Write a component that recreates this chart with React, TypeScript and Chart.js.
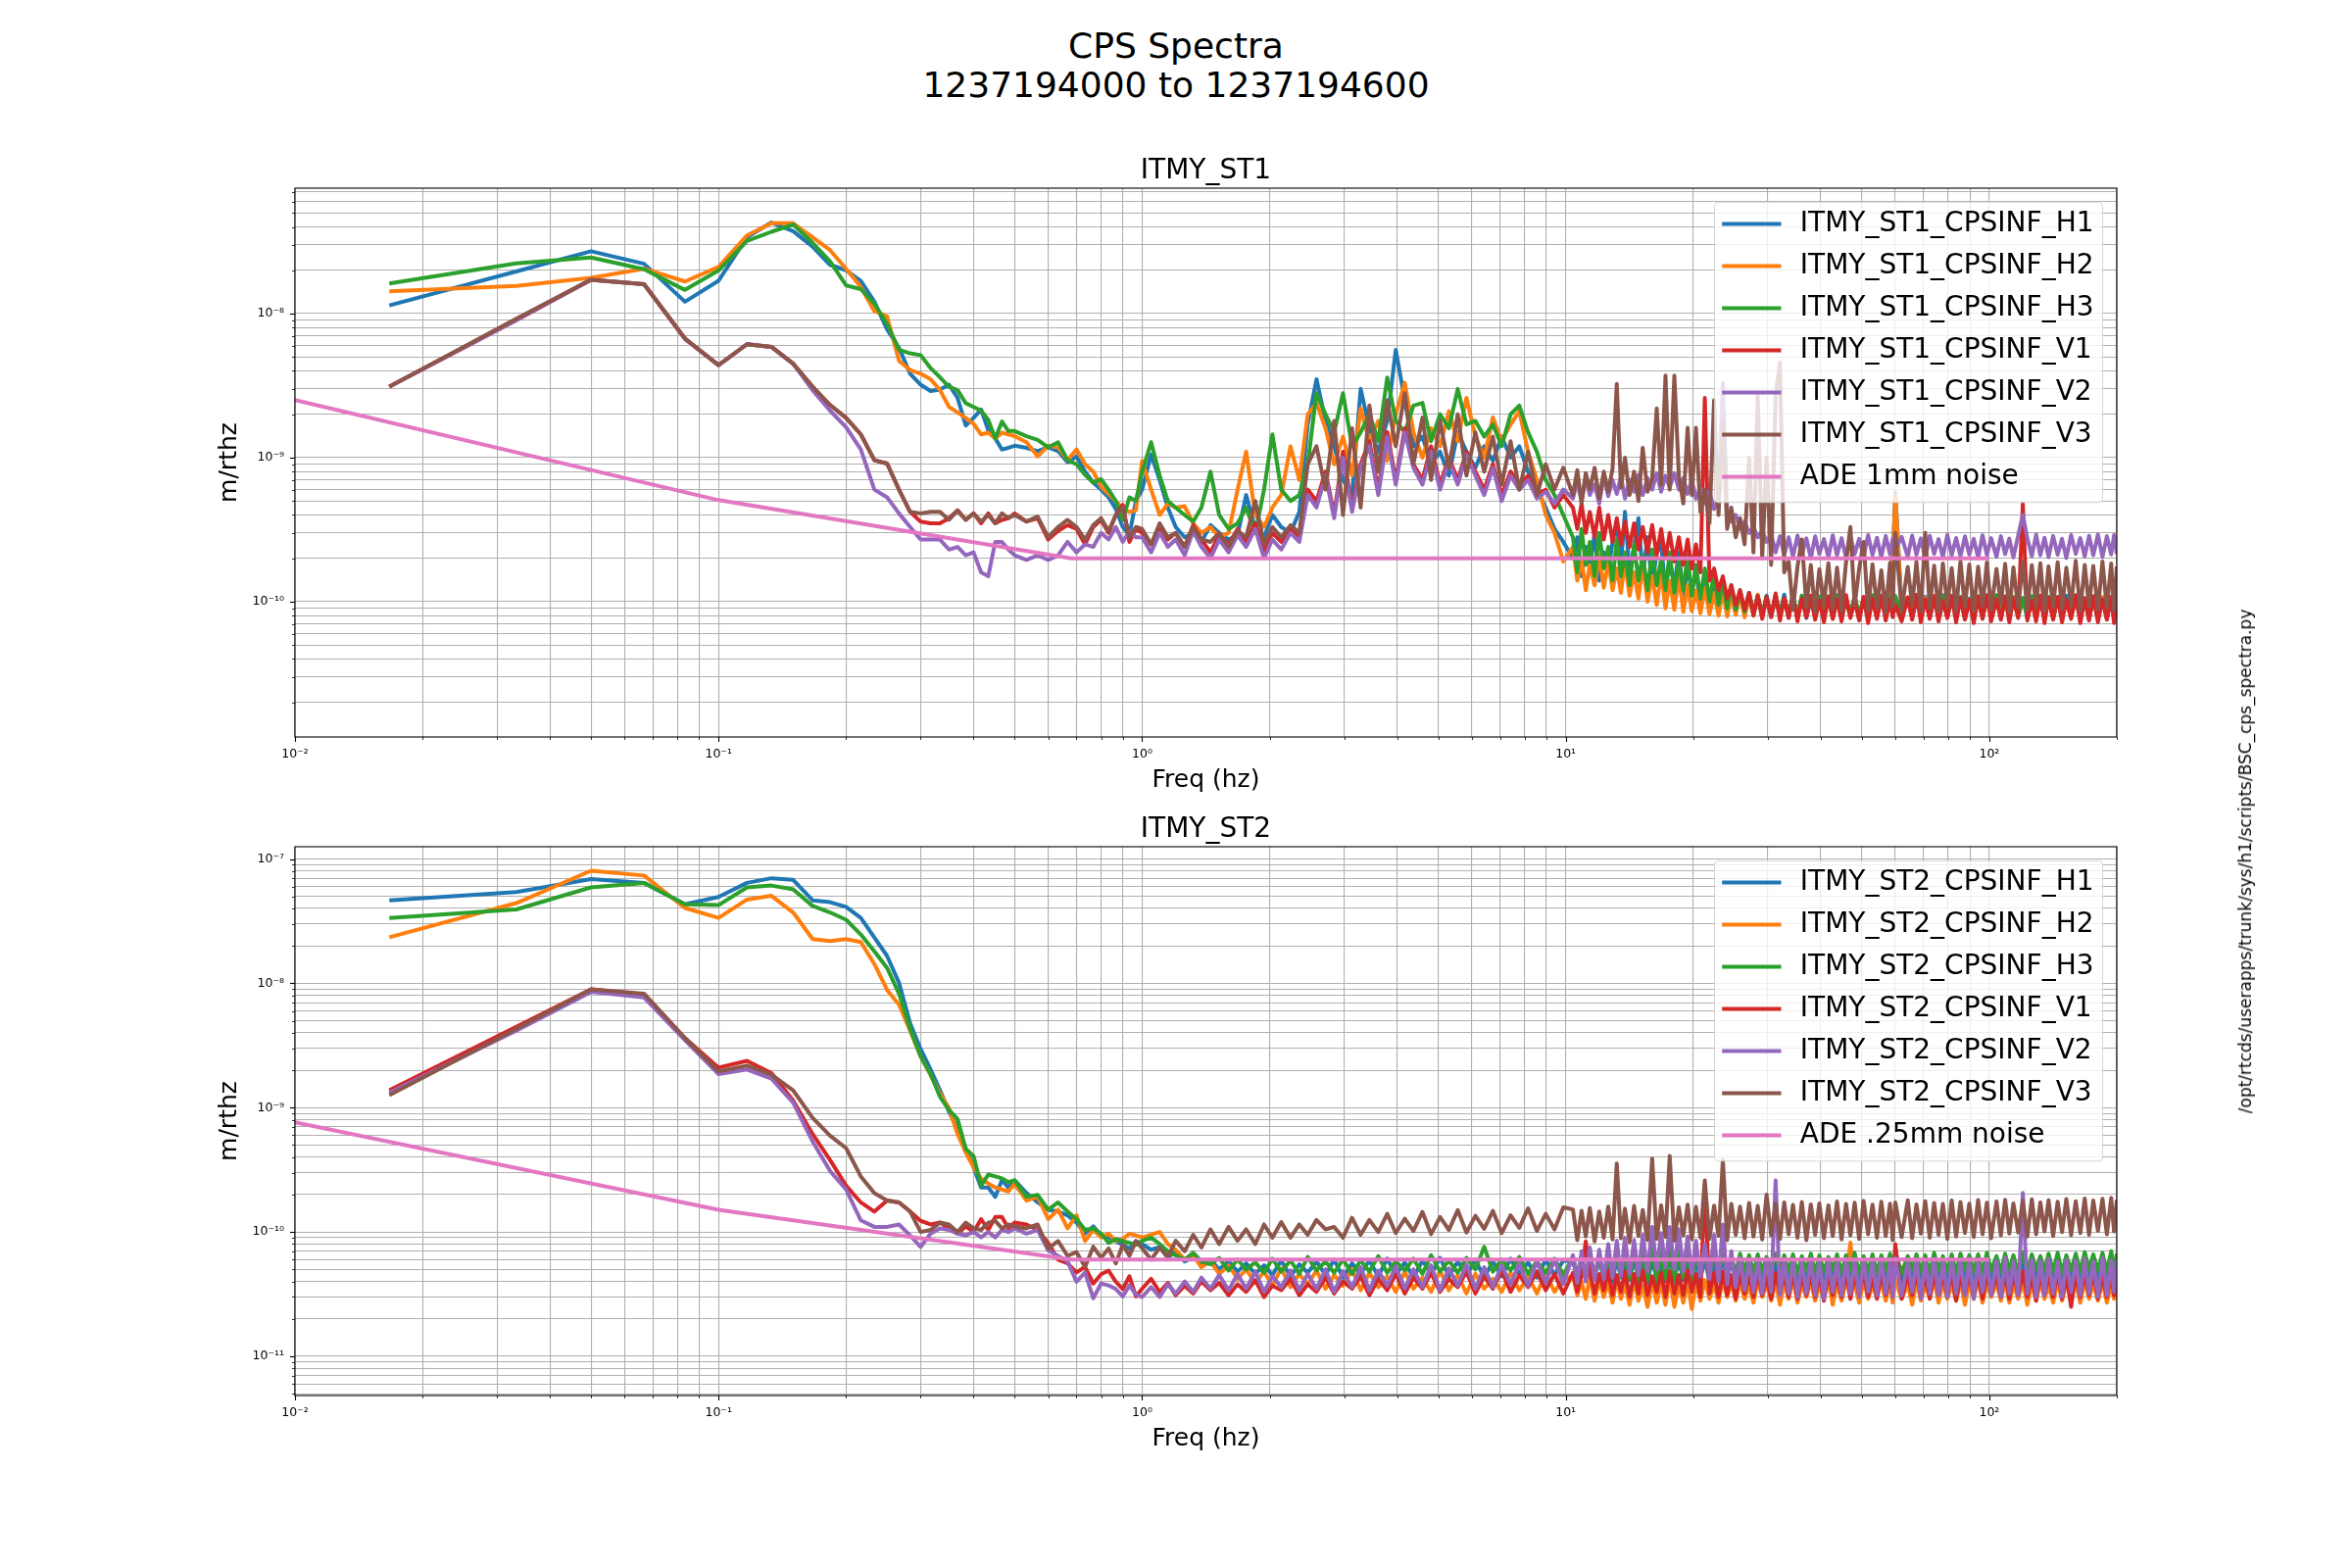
import React, { useEffect, useRef } from "react";
import { Chart, registerables } from "chart.js";

Chart.register(...registerables);

const FONT = "'DejaVu Sans', sans-serif";
// All spectrum values below are in units of 1e-11 m/rtHz
const UNIT = 1e-11;

// Frequency bins (Hz) shared by every CPS spectrum: 44 low bins, 49 bins 1-10 Hz, 125 bins 10-200 Hz
const FREQ = [
  0.0167, 0.0333, 0.05, 0.0667, 0.0833, 0.1, 0.1167, 0.1333, 0.15, 0.1667,
  0.1833, 0.2, 0.2167, 0.2333, 0.25, 0.2667, 0.2833, 0.3, 0.3167, 0.3333,
  0.35, 0.3667, 0.3833, 0.4, 0.4167, 0.4333, 0.45, 0.4667, 0.4833, 0.5,
  0.5333, 0.5667, 0.6, 0.6333, 0.6667, 0.7, 0.7333, 0.7667, 0.8, 0.8333,
  0.8667, 0.9, 0.9333, 0.9667,
  1.0, 1.05, 1.1, 1.15, 1.2, 1.26, 1.32, 1.38, 1.45, 1.52,
  1.6, 1.68, 1.76, 1.85, 1.94, 2.03, 2.13, 2.24, 2.35, 2.46,
  2.58, 2.71, 2.84, 2.98, 3.13, 3.28, 3.44, 3.61, 3.79, 3.97,
  4.17, 4.37, 4.59, 4.81, 5.05, 5.3, 5.56, 5.83, 6.12, 6.42,
  6.73, 7.06, 7.41, 7.77, 8.15, 8.55, 8.97, 9.41, 9.87,
  10.4, 10.65, 10.9, 11.15, 11.4, 11.7, 12.0, 12.3, 12.6, 12.9,
  13.2, 13.5, 13.8, 14.15, 14.5, 14.85, 15.2, 15.6, 16.0, 16.4,
  16.8, 17.2, 17.6, 18.05, 18.5, 18.95, 19.4, 19.85, 20.3, 20.8,
  21.3, 21.85, 22.4, 22.95, 23.5, 24.05, 24.6, 25.2, 25.8, 26.45,
  27.1, 27.75, 28.4, 29.1, 29.8, 30.55, 31.3, 32.05, 32.8, 33.6,
  34.4, 35.25, 36.1, 37.0, 37.9, 38.8, 39.7, 40.7, 41.7, 42.7,
  43.7, 44.8, 45.9, 47.0, 48.1, 49.3, 50.5, 51.75, 53.0, 54.3,
  55.6, 56.95, 58.3, 59.15, 60.0, 62.1, 64.2, 65.75, 67.3, 68.95,
  70.6, 72.35, 74.1, 75.9, 77.7, 79.6, 81.5, 83.5, 85.5, 87.6,
  89.7, 91.9, 94.1, 96.4, 98.7, 101, 104, 106.5, 109, 111.5,
  114, 117, 120, 123, 126, 129, 132, 135, 138, 141.5,
  145, 148.5, 152, 156, 160, 164, 168, 172, 176, 180.5,
  185, 189.5, 194, 197, 200,
];

// ---------- ITMY_ST1 ----------
const ST1_H1 = [
  1140, 1960, 2710, 2220, 1210, 1690, 3390, 4290, 3740, 2920,
  2180, 2000, 1690, 1210, 776, 578, 383, 321, 290, 297,
  321, 260, 167, 189, 216, 155, 136, 114, 117, 121,
  117, 111, 118, 111, 93, 102, 80, 67, 60, 53,
  44, 33, 29, 50,
  60, 105, 70, 45, 33, 28, 30, 26, 34, 30,
  27, 29, 55, 32, 28, 40, 33, 30, 42, 170,
  350, 180, 120, 70, 55, 300, 160, 110, 180, 560,
  250, 120, 140, 90, 110, 75, 150, 110, 85, 120,
  95, 140, 100, 120, 80, 60, 45, 32, 26,
  20, 28, 15, 24, 17, 30, 14, 22, 16, 26,
  35, 18, 42, 16, 24, 38, 15, 28, 13, 22,
  25, 12, 19, 13, 22, 11, 17, 12, 16, 10,
  14, 9.5, 13, 9, 12, 8.8, 12.5, 8.5, 11, 8.6,
  11.5, 8.2, 10.8, 8, 11, 7.9, 10.5, 8.3, 11.2, 7.8,
  10.6, 8.1, 11, 7.7, 10.3, 8.2, 10.9, 7.9, 10.4, 8,
  11.1, 7.8, 10.2, 8.3, 10.8, 7.6, 10.5, 8, 11, 7.9,
  10.3, 8.1, 10.9, 20, 57, 9, 10.6, 7.8, 10.2, 8.2,
  10.8, 7.7, 10.4, 8, 11.1, 7.9, 10.3, 8.1, 10.7, 7.6,
  10.5, 8.2, 10.1, 7.8, 11, 8, 10.4, 7.7, 10.8, 7.9,
  10.2, 8.1, 10.6, 7.6, 10.9, 8, 10.3, 7.8, 10.7, 7.9,
  10.4, 7.7, 11, 8, 10.2, 7.8, 10.6, 7.5, 10.8, 7.9,
  10.3, 7.6, 10.7, 7.9, 9.8,
];
const ST1_H2 = [
  1426, 1556, 1770, 2050, 1670, 2110, 3490, 4240, 4240, 3390,
  2760, 2050, 1530, 1040, 955, 470, 406, 383, 350, 294,
  225, 206, 189, 172, 145, 149, 136, 149, 145, 141,
  128, 102, 121, 118, 96, 114, 90, 80, 63, 56,
  50, 44, 42, 43,
  95, 60, 40, 48, 45, 46, 35, 30, 33, 28,
  30, 60, 110, 40, 33, 45, 55, 120, 70, 200,
  240, 160, 90, 140, 75, 220, 130, 180, 95, 200,
  330, 150, 100, 160, 120, 210, 130, 260, 140, 100,
  190, 130, 170, 210, 110, 70, 40, 30, 19,
  24, 14, 20, 12, 18, 13, 21, 12.5, 19, 12,
  17, 11.5, 19, 11, 16, 10.5, 18, 10, 15, 9.5,
  16, 9, 14, 8.8, 15, 8.5, 13, 8.6, 12, 8.3,
  12.5, 8.2, 11.5, 8, 11.8, 7.9, 11, 8.1, 11.3, 7.8,
  10.9, 8.1, 11.2, 7.9, 10.6, 8.2, 11, 7.8, 10.5, 8,
  11.1, 7.7, 10.4, 8.1, 10.8, 7.9, 10.3, 8.2, 10.9, 7.6,
  10.5, 8, 10.2, 7.9, 11, 7.7, 10.6, 8.1, 10.3, 7.8,
  10.9, 8, 10.4, 18, 55, 8.6, 10.7, 7.9, 10.2, 8.1,
  10.6, 7.8, 11, 7.9, 10.3, 8.2, 10.8, 7.6, 10.5, 8,
  10.2, 7.9, 10.9, 8.1, 10.4, 7.7, 10.7, 8, 10.1, 7.8,
  10.8, 7.9, 10.3, 8.2, 10.6, 7.6, 11, 8, 10.4, 7.7,
  10.7, 8.1, 10.2, 7.8, 10.9, 7.9, 10.4, 8, 10.6, 7.6,
  10.8, 7.9, 10.3, 7.7, 10.2,
];
const ST1_H3 = [
  1620, 2230, 2450, 2030, 1460, 1990, 3190, 3700, 4160, 3100,
  2310, 1570, 1480, 1170, 848, 561, 530, 515, 418, 361,
  311, 294, 239, 225, 212, 183, 136, 178, 153, 153,
  141, 133, 118, 128, 96, 90, 76, 67, 71, 60,
  50, 37, 53, 50,
  80, 128, 75, 50, 45, 40, 36, 45, 80, 40,
  32, 35, 45, 30, 60, 145, 60, 50, 55, 90,
  280, 200, 150, 280, 120, 150, 200, 130, 360, 180,
  150, 230, 240, 130, 200, 160, 300, 170, 180, 140,
  170, 120, 200, 230, 150, 110, 70, 55, 40,
  28, 16, 32, 18, 26, 15, 30, 17, 24, 14,
  27, 15, 22, 13, 25, 14, 21, 12, 23, 13,
  20, 12, 22, 11.5, 19, 12, 21, 11, 18, 10.5,
  17, 10, 16, 9.5, 14, 9, 13, 8.8, 12, 8.5,
  11.5, 8.3, 11, 8.1, 10.8, 7.9, 11.2, 8.2, 10.5, 8,
  10.9, 7.8, 11, 8.1, 10.4, 7.9, 10.8, 8.2, 10.6, 7.7,
  11, 8, 10.3, 7.9, 10.9, 8.1, 10.5, 7.8, 11.1, 8,
  10.4, 7.9, 10.8, 8.2, 11, 8, 10.6, 7.8, 10.9, 8.1,
  10.3, 7.9, 10.7, 8, 11, 7.8, 10.5, 8.2, 10.8, 7.9,
  10.4, 8.1, 10.9, 7.7, 10.6, 8, 11.1, 7.9, 10.3, 8.2,
  10.7, 7.8, 10.5, 8.1, 10.9, 7.9, 10.4, 8, 10.8, 7.7,
  10.6, 8.2, 10.3, 7.9, 11, 8, 10.5, 7.8, 10.9, 8.1,
  10.4, 7.9, 10.7, 8, 10.5,
];
const ST1_V1 = [
  311, 900, 1720, 1600, 670, 439, 613, 588, 449, 311,
  232, 189, 145, 96, 91, 60, 42, 36, 35, 35,
  38, 43, 37, 41, 35, 41, 35, 37, 38, 41,
  36, 38, 27, 31, 34, 32, 25, 33, 37, 30,
  40, 47, 26, 32,
  30, 25, 33, 27, 30, 24, 34, 27, 22, 29,
  25, 32, 26, 35, 22, 30, 26, 33, 28, 60,
  50, 80, 40, 110, 45, 90, 130, 60, 150, 70,
  160, 90, 70, 120, 65, 100, 70, 110, 80, 60,
  90, 55, 80, 65, 75, 55, 60, 45, 55,
  45, 32, 48, 30, 42, 28, 45, 27, 40, 26,
  38, 25, 36, 24, 35, 23, 33, 22, 34, 21,
  32, 20, 30, 19, 28, 18, 27, 17, 25, 16,
  260, 14, 17, 12, 15, 10.5, 13, 9.5, 12, 8.8,
  11.5, 8, 11, 7.6, 10.8, 7.8, 11.4, 7.4, 10.6, 7.7,
  11.2, 7.3, 10.5, 7.8, 11, 7.5, 10.2, 7.2, 10.9, 7.6,
  10.4, 7.3, 11.1, 7.7, 10.2, 7.4, 10.8, 7.1, 10.5, 7.6,
  11, 7.4, 10.3, 7.8, 9.5, 7.3, 10.7, 7.5, 11.2, 7.2,
  10.4, 7.6, 10.9, 7.3, 10.1, 7.7, 11, 7.2, 10.6, 7.5,
  10.3, 7.1, 10.8, 7.6, 11.1, 7.3, 10.4, 7.5, 10.9, 7.2,
  10.5, 7.7, 48, 7.4, 10.2, 7.3, 11, 7.1, 10.6, 7.5,
  10.8, 7.2, 10.3, 7.6, 11.1, 7.1, 10.5, 7.4, 10.9, 7.2,
  10.4, 7.5, 10.8, 7.1, 10.6,
];
const ST1_V2 = [
  311, 900, 1720, 1600, 670, 439, 613, 588, 449, 294,
  212, 163, 114, 60, 53, 41, 33, 27, 27, 27,
  23, 24, 21, 22, 16, 15, 26, 26, 23, 21,
  19.5, 21, 19.5, 21, 26, 22, 25, 24, 30, 27,
  33, 26, 31, 28,
  28, 22, 30, 24, 27, 21, 31, 24, 20, 27,
  22, 29, 24, 32, 20, 27, 23, 30, 26, 55,
  45, 75, 38, 100, 42, 85, 120, 55, 140, 65,
  150, 85, 65, 110, 60, 95, 65, 105, 75, 55,
  85, 50, 75, 60, 70, 52, 58, 48, 60,
  52, 68, 50, 72, 55, 65, 48, 75, 54, 70,
  56, 74, 52, 70, 58, 76, 55, 72, 60, 78,
  58, 75, 62, 78, 60, 72, 56, 70, 52, 62,
  48, 58, 44, 52, 330, 42, 36, 40, 32, 36,
  30, 33, 28, 31, 26, 29.5, 22, 28.5, 21, 28,
  20.5, 28.8, 21.2, 27.5, 20, 28.4, 21.5, 27.2, 20.3, 28.9,
  21, 27.6, 20.2, 28.5, 21.4, 27.3, 20.6, 29, 21.1, 27.8,
  20.4, 28.6, 21.3, 27.4, 23, 28.2, 20.5, 28.8, 21.2, 27.5,
  20.1, 28.7, 21.5, 27.2, 20.4, 29.1, 21, 27.7, 20.6, 28.4,
  21.3, 27.3, 20.2, 28.9, 21.1, 27.6, 20.5, 28.5, 21.4, 27.4,
  20.3, 28.8, 40, 27.5, 20.7, 29.2, 21, 27.8, 20.4, 28.6,
  21.2, 27.3, 20.1, 29, 21.5, 27.6, 20.6, 28.7, 21, 29.3,
  20.4, 28.5, 21.3, 29, 21.5,
];
const ST1_V3 = [
  311, 920, 1720, 1600, 670, 439, 613, 588, 449, 311,
  232, 189, 145, 96, 91, 60, 42, 41, 42, 42,
  37, 43, 37, 41, 36, 40, 35, 41, 38, 40,
  36, 39, 28, 33, 37, 33, 27, 34, 38, 31,
  40, 45, 28, 33,
  32, 25, 35, 28, 30, 24, 33, 27, 26, 30,
  24, 31, 28, 50, 25, 33, 28, 34, 30, 90,
  120, 60, 180, 40, 160, 45, 230, 80, 250, 120,
  280, 90, 190, 70, 180, 85, 200, 75, 150, 80,
  140, 65, 130, 60, 110, 55, 90, 60, 85,
  55, 82, 48, 78, 60, 85, 52, 80, 58, 84,
  325, 62, 100, 55, 80, 50, 117, 58, 72, 220,
  65, 371, 60, 371, 75, 48, 161, 55, 161, 42,
  60, 35, 250, 40, 180, 32, 45, 28, 38, 25,
  100, 22, 271, 20, 100, 18, 271, 457, 16, 19,
  8.8, 17.5, 27, 9.2, 18, 8.5, 16.8, 9.6, 18.5, 8.9,
  17.2, 8.6, 18.8, 33, 9.4, 17, 26, 8.7, 18.2, 9.1,
  16.5, 8.4, 18.6, 9.3, 30, 8.8, 17.4, 9.5, 18.9, 8.6,
  30, 9.0, 17.8, 8.5, 18.4, 9.4, 17.1, 8.7, 19, 9.2,
  18.1, 8.6, 17.5, 9.3, 18.7, 8.8, 16.9, 9.6, 18.3, 8.5,
  17.3, 9.1, 19, 8.7, 17.9, 9.4, 18.5, 8.6, 17.6, 9.2,
  18.8, 8.9, 17.2, 9.5, 19.2, 8.6, 18, 9.3, 17.7, 8.8,
  19, 9.1, 18.4, 8.7, 17.5,
];

// ---------- ITMY_ST2 ----------
const ST2_H1 = [
  4650, 5420, 6890, 6430, 4320, 4960, 6430, 7010, 6800, 4650,
  4500, 4120, 3360, 2340, 1660, 1010, 477, 296, 203, 138,
  92.5, 68, 46.7, 33.2, 22.8, 22.8, 19.2, 26.1, 22.8, 26.1,
  20.6, 17.3, 15.1, 14.6, 13.6, 11.9, 9.7, 11.1, 9.4, 9.06,
  8.45, 7.89, 7.37, 8.45,
  8.0, 7.2, 7.6, 6.2, 7.0, 5.8, 6.3, 5.5, 6.0, 5.0,
  5.8, 4.8, 5.6, 4.6, 5.4, 4.5, 5.9, 4.4, 5.5, 4.7,
  5.8, 4.5, 6.0, 4.3, 5.6, 4.6, 5.9, 4.4, 6.1, 4.5,
  5.7, 4.3, 5.9, 4.6, 6.2, 4.4, 5.8, 4.5, 6.0, 4.3,
  5.8, 4.4, 6.1, 4.6, 5.7, 4.3, 6.0, 4.5, 5.9,
  5.8, 4.3, 6.1, 4.1, 5.7, 4.4, 6.0, 4.2, 5.9, 4.0,
  6.2, 4.3, 5.6, 4.1, 6.0, 4.4, 5.8, 3.9, 6.1, 4.2,
  5.7, 4.0, 6.3, 4.3, 5.9, 4.1, 6.0, 3.9, 5.8, 4.2,
  6.1, 4.0, 5.7, 4.3, 6.2, 4.1, 5.9, 4.2, 5.6, 4.0,
  6.0, 4.3, 5.8, 4.1, 6.1, 3.9, 5.7, 4.2, 6.0, 4.1,
  5.9, 4.0, 6.2, 4.3, 5.8, 4.1, 5.6, 4.2, 6.1, 4.0,
  5.7, 4.3, 6.0, 4.1, 5.9, 4.2, 6.2, 4.0, 5.8, 4.1,
  6.0, 4.3, 5.7, 4.2, 6.8, 4.0, 5.9, 4.1, 6.1, 4.2,
  5.8, 4.0, 6.0, 4.3, 5.7, 4.1, 6.2, 4.2, 5.9, 4.0,
  6.1, 4.1, 5.8, 4.3, 6.0, 4.0, 5.7, 4.2, 6.1, 4.1,
  5.9, 4.3, 6.0, 4.0, 5.8, 4.2, 6.2, 4.1, 5.7, 4.0,
  6.0, 4.2, 5.9, 4.1, 6.1, 4.3, 5.8, 4.0, 6.0, 4.2,
  5.7, 4.1, 6.1, 4.2, 5.9,
];
const ST2_H2 = [
  2350, 4420, 8050, 7370, 4040, 3360, 4720, 5060, 3720, 2270,
  2190, 2270, 2150, 1430, 885, 673, 417, 258, 183, 130,
  99, 61.4, 43.6, 33.2, 27.0, 24.5, 22.8, 22.0, 21.2, 24.4,
  17.9, 19.2, 12.7, 15.1, 10.7, 13.6, 8.45, 10.4, 9.06, 9.7,
  8.45, 8.75, 9.7, 9.4,
  9.0, 9.5, 10.0, 8.0, 7.2, 6.0, 6.5, 5.2, 5.8, 4.6,
  5.4, 4.2, 5.0, 3.9, 4.8, 3.7, 5.1, 3.6, 4.6, 3.8,
  4.9, 3.5, 4.5, 3.7, 5.0, 3.4, 4.7, 3.6, 4.4, 3.3,
  4.8, 3.5, 4.3, 3.3, 4.9, 3.4, 4.5, 3.2, 4.6, 3.5,
  4.2, 3.3, 4.7, 3.4, 4.4, 3.2, 4.6, 3.3, 4.2,
  4.4, 3.1, 4.0, 2.9, 4.3, 2.8, 4.1, 3.0, 3.9, 2.7,
  4.2, 2.9, 3.8, 2.6, 4.1, 2.8, 3.7, 2.5, 4.0, 2.7,
  3.9, 2.6, 4.2, 2.5, 3.8, 2.7, 4.0, 2.4, 3.9, 2.8,
  4.1, 2.9, 3.8, 2.7, 4.2, 3.0, 3.9, 2.8, 4.0, 2.9,
  3.7, 2.7, 4.1, 3.0, 3.8, 2.8, 4.0, 2.6, 3.9, 2.9,
  4.2, 2.7, 3.8, 3.0, 4.0, 2.8, 3.7, 2.9, 4.1, 2.6,
  3.9, 2.8, 4.0, 8.2, 3.8, 2.7, 4.1, 2.9, 3.7, 3.0,
  4.0, 2.8, 3.9, 2.7, 4.2, 2.9, 3.8, 2.6, 4.0, 2.8,
  3.7, 3.0, 4.1, 2.7, 3.9, 2.9, 3.8, 2.8, 4.0, 2.6,
  3.9, 2.9, 4.2, 2.7, 3.8, 3.0, 3.9, 2.8, 4.1, 2.7,
  3.8, 2.9, 4.0, 2.6, 3.9, 2.8, 4.1, 2.9, 3.7, 2.7,
  4.0, 2.8, 3.9, 3.0, 3.8, 2.7, 4.1, 2.9, 3.9, 2.8,
  4.0, 2.7, 3.8, 2.9, 4.0,
];
const ST2_H3 = [
  3360, 3930, 5910, 6430, 4320, 4260, 5910, 6120, 5700, 4200,
  3720, 3250, 2470, 1810, 1330, 826, 432, 258, 186, 122,
  96, 81, 46.7, 40.7, 23.6, 29, 28, 27, 25.2, 26.1,
  19.2, 19.9, 15.1, 17.3, 14.6, 12.7, 10.4, 10.7, 9.7, 8.17,
  8.75, 8.45, 8.17, 7.89,
  8.5, 9.0, 8.0, 7.0, 6.5, 6.0, 6.8, 5.8, 5.5, 6.2,
  4.9, 6.0, 5.0, 5.7, 4.7, 6.1, 4.8, 5.9, 4.6, 6.3,
  4.9, 5.8, 4.7, 6.0, 4.6, 5.9, 4.8, 6.4, 4.7, 5.8,
  4.9, 6.1, 4.6, 6.5, 4.8, 5.9, 4.7, 6.2, 5.0, 7.6,
  4.8, 6.0, 4.9, 6.3, 4.6, 5.8, 4.7, 6.1, 4.5,
  6.3, 4.6, 6.0, 4.5, 6.4, 4.7, 5.9, 4.4, 6.2, 4.6,
  6.5, 4.4, 7.0, 4.2, 7.4, 4.0, 7.2, 4.1, 7.5, 3.9,
  7.3, 4.2, 7.6, 4.0, 7.1, 4.3, 7.4, 4.1, 6.9, 4.4,
  6.8, 4.6, 6.5, 4.7, 6.6, 4.8, 6.4, 4.6, 6.7, 4.9,
  6.5, 4.7, 6.6, 4.8, 6.3, 4.9, 6.7, 4.7, 6.5, 4.8,
  6.6, 4.6, 6.4, 4.9, 6.7, 4.7, 6.5, 4.8, 6.3, 5.0,
  6.6, 4.7, 6.5, 4.9, 6.8, 4.6, 6.4, 4.8, 6.6, 4.7,
  6.5, 4.9, 6.7, 4.8, 6.9, 4.7, 6.4, 5.0, 6.6, 4.8,
  6.5, 4.7, 6.8, 4.9, 6.4, 4.8, 6.6, 4.7, 6.7, 5.0,
  6.5, 4.8, 6.6, 4.7, 6.8, 4.9, 6.4, 4.8, 6.7, 4.9,
  6.5, 4.7, 6.9, 4.8, 6.6, 5.0, 6.4, 4.9, 6.7, 4.8,
  6.8, 4.7, 6.5, 4.9, 6.7, 4.8, 6.9, 5.0, 6.6, 4.9,
  6.8, 4.8, 7.0, 4.9, 6.7,
];
const ST2_V1 = [
  138, 447, 896, 815, 363, 210, 238, 190, 114, 61.4,
  38, 23.6, 17.3, 14.6, 17.9, 17.3, 14.6, 12.3, 11.5, 11.9,
  10.7, 9.7, 11.1, 10.0, 12.7, 10.4, 13.2, 13.2, 10.7, 11.9,
  11.5, 10.4, 8.17, 6.0, 5.6, 4.73, 5.24, 3.85, 4.57, 4.89,
  3.98, 3.48, 4.41, 3.03,
  3.5, 4.2, 3.3, 3.9, 3.1, 3.7, 3.2, 4.0, 3.4, 3.9,
  3.1, 3.8, 3.3, 4.1, 3.0, 3.7, 3.4, 4.2, 3.1, 3.8,
  3.3, 4.3, 3.2, 4.0, 3.5, 4.4, 3.1, 4.2, 3.4, 4.6,
  3.2, 4.3, 3.5, 4.7, 3.3, 4.2, 3.6, 4.8, 3.2, 4.4,
  3.5, 4.9, 3.3, 4.5, 3.6, 4.8, 3.4, 4.6, 3.2,
  4.7, 3.3, 4.5, 8.4, 4.8, 3.2, 4.6, 3.4, 4.9, 3.1,
  4.5, 3.3, 4.8, 3.0, 4.6, 3.2, 4.9, 3.1, 4.4, 3.3,
  4.7, 3.0, 4.8, 3.2, 4.5, 3.1, 4.9, 3.3, 4.6, 3.0,
  24, 3.2, 4.7, 3.0, 4.8, 3.1, 4.5, 2.9, 4.7, 3.2,
  4.6, 3.0, 4.8, 3.1, 4.4, 2.9, 4.7, 3.2, 4.6, 3.0,
  4.8, 2.9, 4.5, 3.1, 4.7, 3.0, 4.6, 2.8, 4.8, 3.1,
  4.5, 3.0, 4.7, 2.9, 4.6, 3.1, 4.8, 3.0, 4.4, 2.9,
  4.7, 3.1, 4.5, 3.0, 8.0, 2.9, 4.6, 3.1, 4.8, 3.0,
  4.5, 2.9, 4.7, 3.1, 4.6, 3.0, 4.8, 2.8, 4.5, 3.1,
  4.7, 3.0, 4.6, 2.9, 4.8, 3.1, 4.5, 3.0, 4.7, 2.9,
  4.6, 3.1, 4.8, 3.0, 4.5, 2.8, 4.7, 3.1, 4.6, 3.0,
  4.8, 2.9, 4.5, 2.5, 4.7, 3.0, 4.6, 3.1, 4.8, 2.9,
  4.5, 3.0, 4.7, 3.1, 4.6,
];
const ST2_V2 = [
  132, 417, 854, 770, 350, 186, 203, 171, 110, 53.6,
  31, 22, 12.4, 11, 11, 11.5, 9.4, 7.6, 9.7, 10.7,
  10.4, 9.7, 9.4, 10.0, 9.06, 10.0, 9.06, 10.4, 10.0, 10.7,
  9.7, 10.4, 7.13, 6.43, 5.8, 3.98, 4.73, 2.93, 3.85, 3.72,
  3.48, 3.03, 3.72, 3.13,
  3.0, 3.6, 3.0, 3.8, 3.2, 4.0, 3.3, 4.3, 3.5, 4.5,
  3.4, 4.6, 3.5, 4.8, 3.3, 4.4, 3.6, 4.9, 3.4, 4.6,
  3.5, 5.0, 3.3, 4.8, 3.6, 5.2, 3.4, 4.9, 3.7, 5.3,
  3.5, 5.0, 3.6, 5.4, 3.4, 5.1, 3.7, 5.5, 3.5, 5.2,
  3.6, 5.4, 3.8, 5.6, 3.7, 5.8, 3.9, 6.0, 3.8,
  6.5, 3.9, 7.0, 4.0, 7.5, 4.1, 7.2, 4.2, 8.0, 4.3,
  8.5, 4.4, 9.0, 4.6, 8.6, 4.5, 9.5, 4.8, 11.0, 5.0,
  9.8, 5.2, 11.0, 5.0, 10.5, 4.8, 9.2, 4.6, 8.5, 4.4,
  8.0, 4.2, 9.5, 4.0, 11.5, 3.8, 7.0, 3.6, 6.2, 3.4,
  6.0, 3.3, 5.8, 3.2, 6.1, 3.3, 26, 3.1, 5.9, 3.2,
  6.0, 3.0, 5.8, 3.2, 6.1, 3.1, 5.9, 2.9, 6.0, 3.3,
  5.8, 3.1, 6.1, 3.2, 5.9, 3.0, 6.0, 3.3, 5.7, 3.1,
  6.1, 3.2, 5.9, 3.0, 6.2, 3.1, 5.8, 3.3, 6.0, 2.9,
  5.9, 3.2, 6.1, 3.1, 5.8, 3.0, 6.0, 3.2, 5.9, 3.1,
  6.1, 2.9, 5.8, 3.3, 6.0, 3.1, 5.9, 3.0, 6.2, 3.2,
  5.8, 3.1, 20.6, 3.2, 6.0, 3.0, 5.9, 3.1, 6.1, 3.2,
  5.8, 3.0, 6.0, 3.3, 5.9, 3.1, 6.1, 3.2, 5.8, 3.0,
  6.2, 3.1, 5.9, 3.3, 6.0,
];
const ST2_V3 = [
  126, 430, 896, 826, 363, 196, 218, 184, 138, 83,
  59.5, 47.3, 28, 20.5, 17.9, 17.3, 14.6, 10.0, 10.4, 11.9,
  11.5, 10.0, 11.9, 10.7, 10.4, 11.9, 12.3, 10.7, 11.5, 11.1,
  10.7, 11.5, 7.37, 8.45, 6.43, 6.89, 5.24, 7.62, 6.21, 7.37,
  5.6, 7.89, 6.43, 8.45,
  7.4, 6.0, 7.5, 6.3, 8.5, 7.0, 9.5, 7.5, 10.5, 8.0,
  11.0, 8.5, 10.5, 8.0, 11.5, 9.0, 12.0, 9.0, 11.5, 9.5,
  12.5, 10.5, 11.0, 9.0, 13.0, 9.5, 12.5, 10.0, 14.0, 9.8,
  12.8, 10.2, 14.5, 9.6, 13.2, 10.4, 15.0, 9.9, 13.5, 10.6,
  14.8, 9.8, 13.6, 10.8, 15.5, 10.2, 14.0, 10.5, 15.8,
  15.2, 8.6, 14.8, 9.2, 15.6, 8.4, 14.6, 9.0, 16.0, 8.7,
  35.5, 8.9, 15.4, 8.3, 16.2, 9.3, 15.0, 8.6, 39.0, 8.8,
  16.4, 9.1, 41.0, 8.5, 15.8, 9.4, 16.6, 8.7, 15.9, 9.0,
  26.0, 8.8, 16.3, 9.3, 38.0, 8.6, 16.8, 9.5, 16.0, 8.9,
  17.1, 9.2, 16.2, 8.7, 20.0, 9.4, 16.9, 8.8, 17.3, 9.6,
  16.5, 9.0, 17.4, 8.6, 16.7, 9.5, 17.0, 8.9, 16.4, 9.3,
  17.6, 8.7, 16.8, 9.4, 17.2, 8.8, 17.8, 9.6, 16.6, 9.0,
  17.5, 9.3, 16.9, 8.6, 17.3, 9.1, 18.0, 8.9, 16.7, 9.7,
  17.7, 9.0, 17.1, 9.5, 16.8, 8.8, 17.9, 9.2, 17.4, 9.8,
  16.9, 9.1, 18.1, 9.6, 17.2, 8.9, 17.6, 9.4, 18.2, 9.7,
  17.0, 9.9, 17.8, 9.2, 18.3, 9.6, 17.3, 10.1, 18.0, 9.3,
  17.5, 10.0, 18.4, 9.4, 17.7, 9.8, 18.6, 9.5, 17.9, 10.2,
  18.5, 9.6, 18.8, 10.1, 18.1,
];

// ADE noise references (breakpoints, Hz) and levels (units of 1e-11 m/rtHz)
const ADE_FREQ = [0.01, 0.1, 0.68, 100];
const ADE_1MM = [251, 50.7, 20, 20];
const ADE_025MM = [76.3, 15.1, 6.0, 6.0];

const COLORS = ["#1f77b4", "#ff7f0e", "#2ca02c", "#d62728", "#9467bd", "#8c564b", "#e377c2"];
const ST1_LABELS = [
  "ITMY_ST1_CPSINF_H1", "ITMY_ST1_CPSINF_H2", "ITMY_ST1_CPSINF_H3",
  "ITMY_ST1_CPSINF_V1", "ITMY_ST1_CPSINF_V2", "ITMY_ST1_CPSINF_V3", "ADE 1mm noise",
];
const ST2_LABELS = [
  "ITMY_ST2_CPSINF_H1", "ITMY_ST2_CPSINF_H2", "ITMY_ST2_CPSINF_H3",
  "ITMY_ST2_CPSINF_V1", "ITMY_ST2_CPSINF_V2", "ITMY_ST2_CPSINF_V3", "ADE .25mm noise",
];

const X_TICK_VALUES = [0.01, 0.1, 1, 10, 100];
const X_TICK_LABELS = ["10\u207B\u00B2", "10\u207B\u00B9", "10\u2070", "10\u00B9", "10\u00B2"];
const Y1_TICK_VALUES = [1e-10, 1e-9, 1e-8];
const Y1_TICK_LABELS = ["10\u207B\u00B9\u2070", "10\u207B\u2079", "10\u207B\u2078"];
const Y2_TICK_VALUES = [1e-11, 1e-10, 1e-9, 1e-8, 1e-7];
const Y2_TICK_LABELS = ["10\u207B\u00B9\u00B9", "10\u207B\u00B9\u2070", "10\u207B\u2079", "10\u207B\u2078", "10\u207B\u2077"];

const X_RANGE = [0.01, 200];
const Y1_RANGE = [1.15e-11, 7.43e-8];
const Y2_RANGE = [4.84e-12, 1.256e-7];

const LINE_W = 4;

function gridValues(min: number, max: number): number[] {
  const out: number[] = [];
  const e0 = Math.floor(Math.log10(min));
  const e1 = Math.ceil(Math.log10(max));
  for (let e = e0; e <= e1; e++) {
    for (let m = 1; m <= 9; m++) {
      const v = Number((m * Math.pow(10, e)).toPrecision(8));
      if (v >= min * 0.99999 && v <= max * 1.00001) out.push(v);
    }
  }
  return out;
}
function isDecade(v: number) {
  const l = Math.log10(v);
  return Math.abs(l - Math.round(l)) < 1e-6;
}
function labelFor(v: number, values: number[], labels: string[]) {
  const i = values.findIndex((t) => Math.abs(Math.log10(t) - Math.log10(v)) < 1e-6);
  return i >= 0 ? labels[i] : "";
}

const framePlugin = {
  id: "mplFrame",
  afterDatasetsDraw(chart: any) {
    const { ctx, chartArea } = chart;
    const { left, right, top, bottom } = chartArea;
    ctx.save();
    ctx.strokeStyle = "#000";
    const xs = chart.scales.x;
    xs.ticks.forEach((t: any) => {
      const px = Math.round(xs.getPixelForValue(t.value)) + 0.5;
      const major = isDecade(t.value);
      ctx.lineWidth = major ? 1.1 : 0.8;
      ctx.beginPath();
      ctx.moveTo(px, bottom);
      ctx.lineTo(px, bottom + (major ? 5 : 3));
      ctx.stroke();
    });
    const ys = chart.scales.y;
    ys.ticks.forEach((t: any) => {
      const py = Math.round(ys.getPixelForValue(t.value)) + 0.5;
      const major = isDecade(t.value);
      ctx.lineWidth = major ? 1.1 : 0.8;
      ctx.beginPath();
      ctx.moveTo(left, py);
      ctx.lineTo(left - (major ? 5 : 3), py);
      ctx.stroke();
    });
    ctx.lineWidth = 1.1;
    ctx.strokeRect(left, top, right - left, bottom - top);
    ctx.restore();
  },
};

function makeLegendPlugin(items: { label: string; color: string }[]) {
  return {
    id: "mplLegend",
    afterDraw(chart: any) {
      const { ctx, chartArea } = chart;
      const w = 396;
      const h = 306.5;
      const x0 = chartArea.right - 14.5 - w;
      const y0 = chartArea.top + 14.3;
      const r = 4;
      ctx.save();
      ctx.beginPath();
      ctx.moveTo(x0 + r, y0);
      ctx.lineTo(x0 + w - r, y0);
      ctx.arcTo(x0 + w, y0, x0 + w, y0 + r, r);
      ctx.lineTo(x0 + w, y0 + h - r);
      ctx.arcTo(x0 + w, y0 + h, x0 + w - r, y0 + h, r);
      ctx.lineTo(x0 + r, y0 + h);
      ctx.arcTo(x0, y0 + h, x0, y0 + h - r, r);
      ctx.lineTo(x0, y0 + r);
      ctx.arcTo(x0, y0, x0 + r, y0, r);
      ctx.closePath();
      ctx.fillStyle = "rgba(255,255,255,0.8)";
      ctx.fill();
      ctx.strokeStyle = "rgba(204,204,204,0.8)";
      ctx.lineWidth = 1;
      ctx.stroke();
      ctx.font = "28px " + FONT;
      ctx.textAlign = "left";
      ctx.textBaseline = "middle";
      items.forEach((it, i) => {
        const y = y0 + 22.3 + i * 43;
        ctx.strokeStyle = it.color;
        ctx.lineWidth = LINE_W;
        ctx.lineCap = "butt";
        ctx.beginPath();
        ctx.moveTo(x0 + 7.7, y);
        ctx.lineTo(x0 + 68, y);
        ctx.stroke();
        ctx.fillStyle = "#000";
        ctx.fillText(it.label, x0 + 87.3, y);
      });
      ctx.restore();
    },
  };
}

function buildConfig(
  title: string,
  labels: string[],
  series: number[][],
  ade: number[],
  yRange: number[],
  yTickValues: number[],
  yTickLabels: string[]
): any {
  const datasets: any[] = series.map((vals, i) => ({
    label: labels[i],
    data: FREQ.map((f, k) => ({ x: f, y: vals[k] * UNIT })),
    borderColor: COLORS[i],
    backgroundColor: COLORS[i],
    borderWidth: LINE_W,
    borderJoinStyle: "round",
    pointRadius: 0,
    pointHoverRadius: 0,
    fill: false,
    tension: 0,
    order: 7 - i,
  }));
  datasets.push({
    label: labels[6],
    data: ADE_FREQ.map((f, k) => ({ x: f, y: ade[k] * UNIT })),
    borderColor: COLORS[6],
    backgroundColor: COLORS[6],
    borderWidth: LINE_W,
    pointRadius: 0,
    pointHoverRadius: 0,
    fill: false,
    tension: 0,
    order: 0,
  });
  const items = labels.map((l, i) => ({ label: l, color: COLORS[i] }));
  return {
    type: "line",
    data: { datasets },
    options: {
      animation: false,
      responsive: false,
      maintainAspectRatio: false,
      devicePixelRatio: 1,
      events: [],
      layout: { autoPadding: false, padding: { left: 200, right: 240, top: 0, bottom: 0 } },
      plugins: {
        legend: { display: false },
        tooltip: { enabled: false },
        title: {
          display: true,
          text: title,
          fullSize: false,
          color: "#000",
          font: { family: FONT, size: 28, weight: "normal", lineHeight: 1.2 },
          padding: { top: 37.5, bottom: 0.9 },
        },
      },
      scales: {
        x: {
          type: "logarithmic",
          position: "bottom",
          min: X_RANGE[0],
          max: X_RANGE[1],
          afterBuildTicks: (s: any) => {
            s.ticks = gridValues(X_RANGE[0], X_RANGE[1]).map((v) => ({ value: v }));
          },
          afterFit: (s: any) => {
            s.height = 60;
          },
          grid: { color: "#b0b0b0", lineWidth: 1.1, drawTicks: false },
          border: { display: false },
          ticks: {
            autoSkip: false,
            maxRotation: 0,
            minRotation: 0,
            padding: 10,
            color: "#000",
            font: { family: FONT, size: 12.5 },
            callback: (v: any) => labelFor(Number(v), X_TICK_VALUES, X_TICK_LABELS),
          },
          title: {
            display: true,
            text: "Freq (hz)",
            color: "#000",
            font: { family: FONT, size: 25, lineHeight: 1.2 },
            padding: { top: 0, bottom: 0.5 },
          },
        },
        y: {
          type: "logarithmic",
          position: "left",
          min: yRange[0],
          max: yRange[1],
          afterBuildTicks: (s: any) => {
            s.ticks = gridValues(yRange[0], yRange[1]).map((v) => ({ value: v }));
          },
          afterFit: (s: any) => {
            s.width = 101;
          },
          grid: { color: "#b0b0b0", lineWidth: 1.1, drawTicks: false },
          border: { display: false },
          ticks: {
            autoSkip: false,
            padding: 11,
            color: "#000",
            font: { family: FONT, size: 12.5 },
            callback: (v: any) => labelFor(Number(v), yTickValues, yTickLabels),
          },
          title: {
            display: true,
            text: "m/rthz",
            color: "#000",
            font: { family: FONT, size: 25, lineHeight: 1.2 },
            padding: { top: 19, bottom: 0 },
          },
        },
      },
    },
    plugins: [framePlugin, makeLegendPlugin(items)],
  };
}

export default function App() {
  const ref1 = useRef<HTMLCanvasElement>(null);
  const ref2 = useRef<HTMLCanvasElement>(null);

  useEffect(() => {
    const c1 = new Chart(
      ref1.current as HTMLCanvasElement,
      buildConfig(
        "ITMY_ST1",
        ST1_LABELS,
        [ST1_H1, ST1_H2, ST1_H3, ST1_V1, ST1_V2, ST1_V3],
        ADE_1MM,
        Y1_RANGE,
        Y1_TICK_VALUES,
        Y1_TICK_LABELS
      )
    );
    const c2 = new Chart(
      ref2.current as HTMLCanvasElement,
      buildConfig(
        "ITMY_ST2",
        ST2_LABELS,
        [ST2_H1, ST2_H2, ST2_H3, ST2_V1, ST2_V2, ST2_V3],
        ADE_025MM,
        Y2_RANGE,
        Y2_TICK_VALUES,
        Y2_TICK_LABELS
      )
    );
    return () => {
      c1.destroy();
      c2.destroy();
    };
  }, []);

  return (
    <div
      style={{
        position: "absolute",
        left: 0,
        top: 0,
        width: 2400,
        height: 1600,
        background: "#fff",
        overflow: "hidden",
        fontFamily: FONT,
        color: "#000",
      }}
    >
      <div
        style={{
          position: "absolute",
          left: 0,
          top: 26.9,
          width: 2400,
          textAlign: "center",
          fontSize: 36,
          lineHeight: "40px",
        }}
      >
        CPS Spectra
        <br />
        1237194000 to 1237194600
      </div>
      <canvas
        ref={ref1}
        width={2400}
        height={692}
        style={{ position: "absolute", left: 0, top: 120, width: 2400, height: 692 }}
      />
      <canvas
        ref={ref2}
        width={2400}
        height={692}
        style={{ position: "absolute", left: 0, top: 792, width: 2400, height: 692 }}
      />
      <div
        style={{
          position: "absolute",
          left: 2291,
          top: 879,
          transform: "translate(-50%, -50%) rotate(-90deg)",
          whiteSpace: "nowrap",
          fontSize: 17,
          lineHeight: "20px",
        }}
      >
        /opt/rtcds/userapps/trunk/sys/h1/scripts/BSC_cps_spectra.py
      </div>
    </div>
  );
}
